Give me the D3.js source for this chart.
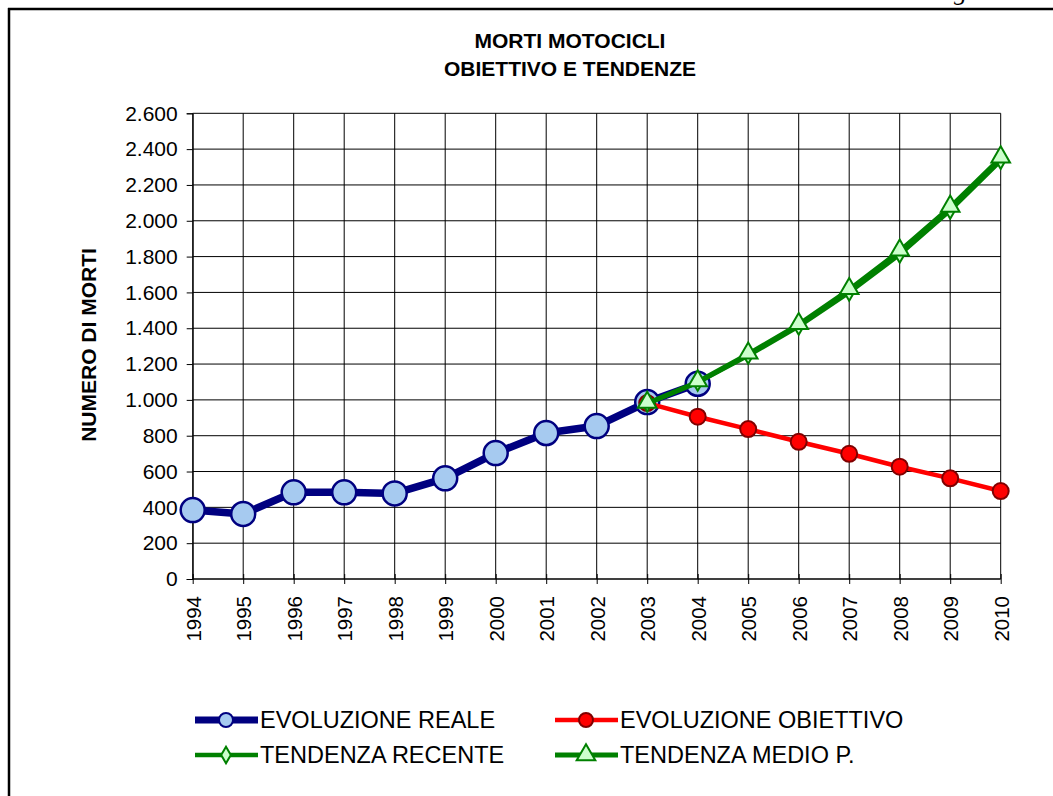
<!DOCTYPE html>
<html>
<head>
    <meta charset="utf-8">
    <style>
        body {
            margin: 0;
            background-color: #FFF;
        }
        text {
            font-family: Arial, "Liberation Sans", sans-serif;
            fill: #000;
        }
    </style>
</head>
<body>
<div id="chartArea"></div>
<script src="https://d3js.org/d3.v7.min.js"></script>
<script>
    /* -----------------------------------
        data
    ----------------------------------- */
    var years = ["1994","1995","1996","1997","1998","1999","2000","2001","2002",
                 "2003","2004","2005","2006","2007","2008","2009","2010"];
    var yTicks = [0,200,400,600,800,1000,1200,1400,1600,1800,2000,2200,2400,2600];

    var realeYears = years.slice(0, 11);
    var reale = [385, 363, 484, 484, 478, 562, 703, 815, 854, 988, 1090];

    var futureYears = years.slice(9);
    var obiettivo = [982, 906, 837, 766, 699, 627, 562, 491];
    var recente   = [980, 1097, 1248, 1410, 1600, 1812, 2058, 2336];
    var medioP    = [980, 1100, 1255, 1420, 1615, 1830, 2075, 2350];

    var titleLines = ["MORTI MOTOCICLI", "OBIETTIVO E TENDENZE"];
    var yTitle = "NUMERO DI MORTI";

    /* -----------------------------------
        initialize
    ----------------------------------- */
    var width = 1053, height = 796;
    var margin = {top: 113.3, right: 52.3, bottom: 217, left: 192.7};

    var svg = d3.select("#chartArea").append("svg")
        .attr("width", width)
        .attr("height", height);

    var x = d3.scalePoint().domain(years).range([margin.left, width - margin.right]);
    var y = d3.scaleLinear().domain([0, 2600]).range([height - margin.bottom, margin.top]);

    var it = d3.formatLocale({decimal: ",", thousands: ".", grouping: [3], currency: ["", "€"]});
    var fmt = it.format(",");

    // frame of the sheet
    svg.append("line").attr("x1", 8).attr("x2", width).attr("y1", 9).attr("y2", 9)
        .attr("stroke", "#000").attr("stroke-width", 2.5);
    svg.append("line").attr("x1", 9).attr("x2", 9).attr("y1", 8).attr("y2", height)
        .attr("stroke", "#000").attr("stroke-width", 2.5);
    // tail of the page header above the frame
    svg.append("text").attr("x", 954).attr("y", 0)
        .style("font-family", "'Liberation Serif', serif").style("font-style", "italic")
        .style("font-size", "26px").text("g");

    /* -----------------------------------
        grid + axes
    ----------------------------------- */
    var grid = svg.append("g");
    grid.selectAll(".hg").data(yTicks).enter().append("line")
        .attr("x1", margin.left).attr("x2", width - margin.right)
        .attr("y1", d => y(d)).attr("y2", d => y(d))
        .attr("stroke", "#000").attr("stroke-width", 1);
    grid.selectAll(".vg").data(years).enter().append("line")
        .attr("x1", d => x(d)).attr("x2", d => x(d))
        .attr("y1", y(2600)).attr("y2", y(0))
        .attr("stroke", "#000").attr("stroke-width", 1);

    var yAxis = svg.append("g")
        .attr("transform", "translate(" + margin.left + ",0)")
        .call(d3.axisLeft(y).tickValues(yTicks).tickFormat(fmt).tickSize(6).tickPadding(9));
    yAxis.select(".domain").attr("stroke", "#000");
    yAxis.selectAll("text").style("font-size", "21px").style("font-family", "Arial, 'Liberation Sans', sans-serif");

    var xAxis = svg.append("g")
        .attr("transform", "translate(0," + y(0) + ")")
        .call(d3.axisBottom(x).tickSize(5));
    xAxis.select(".domain").remove();
    xAxis.selectAll(".tick line").attr("y1", -5).attr("y2", 5).attr("stroke", "#000");
    xAxis.selectAll("text")
        .style("font-size", "20.5px").style("font-family", "Arial, 'Liberation Sans', sans-serif")
        .attr("text-anchor", "end")
        .attr("transform", "rotate(-90)")
        .attr("x", -17).attr("y", 0).attr("dy", "0.36em");
    svg.append("line").attr("x1", margin.left).attr("x2", width - margin.right)
        .attr("y1", y(0)).attr("y2", y(0)).attr("stroke", "#000");

    /* -----------------------------------
        titles
    ----------------------------------- */
    svg.selectAll(".title").data(titleLines).enter().append("text")
        .attr("x", 570).attr("y", (d, i) => 48 + i * 28)
        .attr("text-anchor", "middle")
        .style("font-size", "21px").style("font-weight", "bold")
        .text(d => d);

    svg.append("text")
        .attr("transform", "translate(96,345) rotate(-90)")
        .attr("text-anchor", "middle")
        .style("font-size", "21px").style("font-weight", "bold")
        .text(yTitle);

    /* -----------------------------------
        series
    ----------------------------------- */
    var line = d3.line().x(d => x(d[0])).y(d => y(d[1]));
    var tri = d3.symbol().type(d3.symbolTriangle).size(150);
    var dia = d3.symbol().type(d3.symbolDiamond).size(80);

    // evoluzione reale
    var realePts = d3.zip(realeYears, reale);
    svg.append("path").datum(realePts).attr("d", line)
        .attr("fill", "none").attr("stroke", "#000080").attr("stroke-width", 7.5)
        .attr("stroke-linejoin", "round");
    svg.selectAll(".reale").data(realePts).enter().append("circle")
        .attr("cx", d => x(d[0])).attr("cy", d => y(d[1])).attr("r", 12)
        .attr("fill", "#A6CAF0").attr("stroke", "#000080").attr("stroke-width", 2.5);

    // evoluzione obiettivo
    var obPts = d3.zip(futureYears, obiettivo);
    svg.append("path").datum(obPts).attr("d", line)
        .attr("fill", "none").attr("stroke", "#FF0000").attr("stroke-width", 4.5);
    svg.selectAll(".ob").data(obPts).enter().append("circle")
        .attr("cx", d => x(d[0])).attr("cy", d => y(d[1])).attr("r", 8)
        .attr("fill", "#FF0000").attr("stroke", "#800000").attr("stroke-width", 2);

    // tendenza recente
    var recPts = d3.zip(futureYears, recente);
    svg.append("path").datum(recPts).attr("d", line)
        .attr("fill", "none").attr("stroke", "#008000").attr("stroke-width", 4.5);
    svg.selectAll(".rec").data(recPts).enter().append("path")
        .attr("d", dia).attr("transform", d => "translate(" + x(d[0]) + "," + y(d[1]) + ")")
        .attr("fill", "#CCFFCC").attr("stroke", "#008000").attr("stroke-width", 2);

    // tendenza medio periodo
    var medPts = d3.zip(futureYears, medioP);
    svg.append("path").datum(medPts).attr("d", line)
        .attr("fill", "none").attr("stroke", "#008000").attr("stroke-width", 5);
    svg.selectAll(".med").data(medPts).enter().append("path")
        .attr("d", tri).attr("transform", d => "translate(" + x(d[0]) + "," + (y(d[1]) - 1) + ")")
        .attr("fill", "#CCFFCC").attr("stroke", "#008000").attr("stroke-width", 2);

    /* -----------------------------------
        legend
    ----------------------------------- */
    var legendItems = [
        {name: "EVOLUZIONE REALE", col: 0, row: 0, stroke: "#000080", lw: 7, mark: "circle", r: 7, fill: "#A6CAF0", ms: "#000080"},
        {name: "EVOLUZIONE OBIETTIVO", col: 1, row: 0, stroke: "#FF0000", lw: 4.5, mark: "circle", r: 7, fill: "#FF0000", ms: "#800000"},
        {name: "TENDENZA RECENTE", col: 0, row: 1, stroke: "#008000", lw: 4.5, mark: "diamond", fill: "#CCFFCC", ms: "#008000"},
        {name: "TENDENZA MEDIO P.", col: 1, row: 1, stroke: "#008000", lw: 5, mark: "triangle", fill: "#CCFFCC", ms: "#008000"}
    ];
    var legend = svg.selectAll(".lg").data(legendItems).enter().append("g")
        .attr("transform", d => "translate(" + (195 + d.col * 360) + "," + (720 + d.row * 35) + ")");
    legend.append("line").attr("x1", 0).attr("x2", 63).attr("y1", 0).attr("y2", 0)
        .attr("stroke", d => d.stroke).attr("stroke-width", d => d.lw);
    legend.each(function(d) {
        var g = d3.select(this);
        if (d.mark === "circle") {
            g.append("circle").attr("cx", 31).attr("cy", 0).attr("r", d.r)
                .attr("fill", d.fill).attr("stroke", d.ms).attr("stroke-width", 2);
        } else {
            g.append("path").attr("d", d.mark === "diamond" ? dia : tri)
                .attr("transform", "translate(31,0)")
                .attr("fill", d.fill).attr("stroke", d.ms).attr("stroke-width", 2);
        }
    });
    legend.append("text").attr("x", 65).attr("y", 0).attr("dy", "0.36em")
        .style("font-size", "23.5px").text(d => d.name);
</script>
</body>
</html>
